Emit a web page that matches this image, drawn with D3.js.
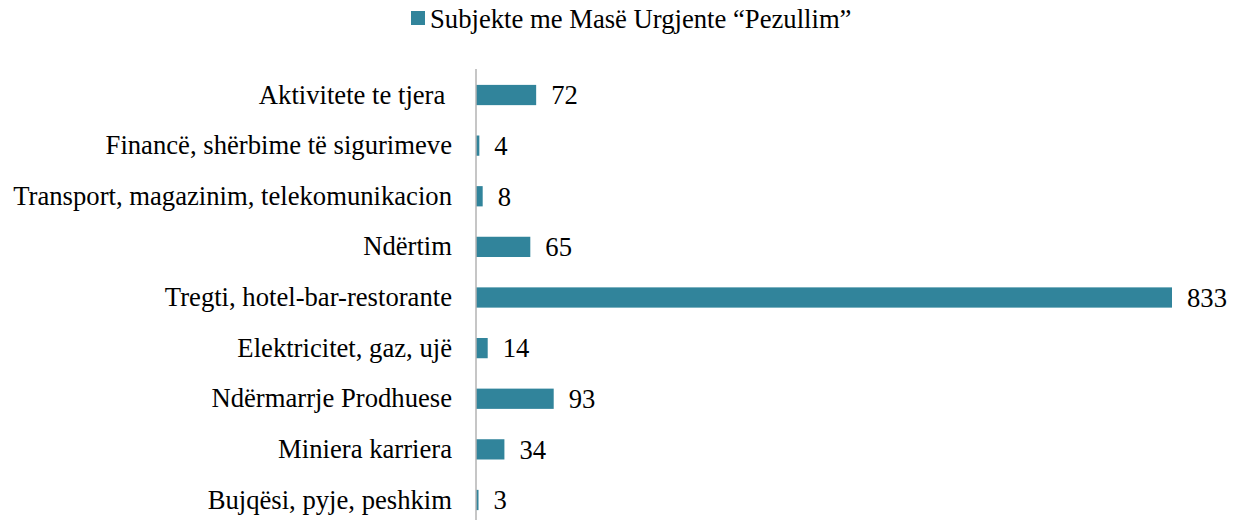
<!DOCTYPE html>
<html>
<head>
<meta charset="utf-8">
<script src="https://cdn.jsdelivr.net/npm/d3@7"></script>
<style>
  body { margin: 0; background: #fff; }
  text { font-family: "Liberation Serif", "Times New Roman", serif; fill: #000; }
</style>
</head>
<body>
<svg id="chart"></svg>
<script>
// Categories top to bottom, as shown in the chart
var categories = [
  "Aktivitete te tjera ",
  "Financë, shërbime të sigurimeve",
  "Transport, magazinim, telekomunikacion",
  "Ndërtim",
  "Tregti, hotel-bar-restorante",
  "Elektricitet, gaz, ujë",
  "Ndërmarrje Prodhuese",
  "Miniera karriera",
  "Bujqësi, pyje, peshkim"
];
var values = [72, 4, 8, 65, 833, 14, 93, 34, 3];
var seriesName = "Subjekte me Masë Urgjente \u201cPezullim\u201d";

var width = 1237,
    height = 520,
    fontSize = "26.67px",
    barColour = "#31849b";

var svg = d3.select("#chart")
  .attr("width", width)
  .attr("height", height);

// Scales
var x = d3.scaleLinear()
  .domain([0, 833])
  .range([476, 1172]);

var y = d3.scaleBand()
  .domain(categories)
  .range([69.7, 525.3])
  .paddingInner(0.6)
  .paddingOuter(0.3);

// Legend
var legend = svg.append("g");
legend.append("rect")
  .attr("x", 411)
  .attr("y", 11)
  .attr("width", 14)
  .attr("height", 14)
  .attr("fill", barColour);
legend.append("text")
  .attr("x", 430)
  .attr("y", 28)
  .style("font-size", fontSize)
  .text(seriesName);

// Bars
svg.selectAll(".bar")
  .data(values)
  .enter().append("rect")
  .attr("class", "bar")
  .attr("x", x(0))
  .attr("y", function(d, i) { return y(categories[i]); })
  .attr("width", function(d) { return x(d) - x(0); })
  .attr("height", y.bandwidth())
  .attr("fill", barColour);

// Value labels
svg.selectAll(".value")
  .data(values)
  .enter().append("text")
  .attr("class", "value")
  .attr("x", function(d) { return x(d) + 15; })
  .attr("y", function(d, i) { return y(categories[i]) + y.bandwidth() / 2; })
  .attr("dy", "0.35em")
  .style("font-size", fontSize)
  .text(function(d) { return d; });

// Category axis (no ticks, just the vertical line and labels)
var axis = svg.append("g")
  .attr("transform", "translate(" + x(0) + ",0)")
  .call(d3.axisLeft(y).tickSize(0).tickPadding(24));

axis.select(".domain")
  .attr("d", "M0,69V" + height)
  .attr("stroke", "#b3b3b3")
  .attr("stroke-width", 1.5);

axis.selectAll("text")
  .style("font-family", "'Liberation Serif', 'Times New Roman', serif")
  .style("font-size", fontSize)
  .style("white-space", "pre")
  .attr("fill", "#000");
</script>
</body>
</html>
